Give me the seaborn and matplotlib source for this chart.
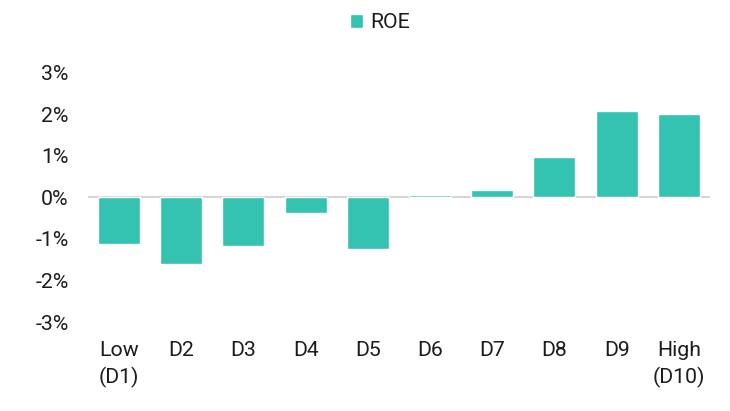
import matplotlib
matplotlib.use("Agg")
import matplotlib.pyplot as plt
import seaborn as sns
import pandas as pd

categories = ["Low\n(D1)", "D2", "D3", "D4", "D5", "D6", "D7", "D8", "D9", "High\n(D10)"]
roe = [-1.13, -1.61, -1.18, -0.38, -1.25, 0.07, 0.18, 0.98, 2.09, 2.00]
yticks = [-3, -2, -1, 0, 1, 2, 3]
ytick_labels = ["-3%", "-2%", "-1%", "0%", "1%", "2%", "3%"]
series_name = "ROE"

sns.set_style("white")
plt.rcParams['font.family'] = ['Roboto', 'DejaVu Sans']

color = "#34c3b1"
df = pd.DataFrame({"cat": categories, "val": roe})

fig = plt.figure(figsize=(7.3, 4.11), dpi=100)
ax = fig.add_axes([0.1205, 0.2165, 0.852, 0.606])
sns.barplot(data=df, x="cat", y="val", color=color, width=0.675,
            saturation=1, ax=ax, label=series_name, zorder=2)
ax.axhline(0, color="#d6d6d6", lw=1.5, zorder=1)
ax.set_xlim(-0.5, len(categories) - 0.5)
ax.set_ylim(-3, 3)
ax.set_yticks(yticks)
ax.set_yticklabels(ytick_labels)
ax.set_xlabel("")
ax.set_ylabel("")
for s in ax.spines.values():
    s.set_visible(False)
ax.tick_params(axis="both", length=0, labelsize=15.3, colors="#1c1c1c")
ax.tick_params(axis="y", pad=14)
ax.tick_params(axis="x", pad=14)
for t in ax.get_xticklabels():
    t.set_linespacing(1.4)
    t.set_verticalalignment("top")
ax.grid(False)

leg = ax.legend(loc="center", bbox_to_anchor=(380 / 730, 1 - 23 / 411),
                bbox_transform=fig.transFigure, frameon=False,
                fontsize=15.3, handlelength=0.6, handleheight=0.6,
                handletextpad=0.35)
for t in leg.get_texts():
    t.set_color("#1c1c1c")

fig.savefig("out.png", dpi=100)
